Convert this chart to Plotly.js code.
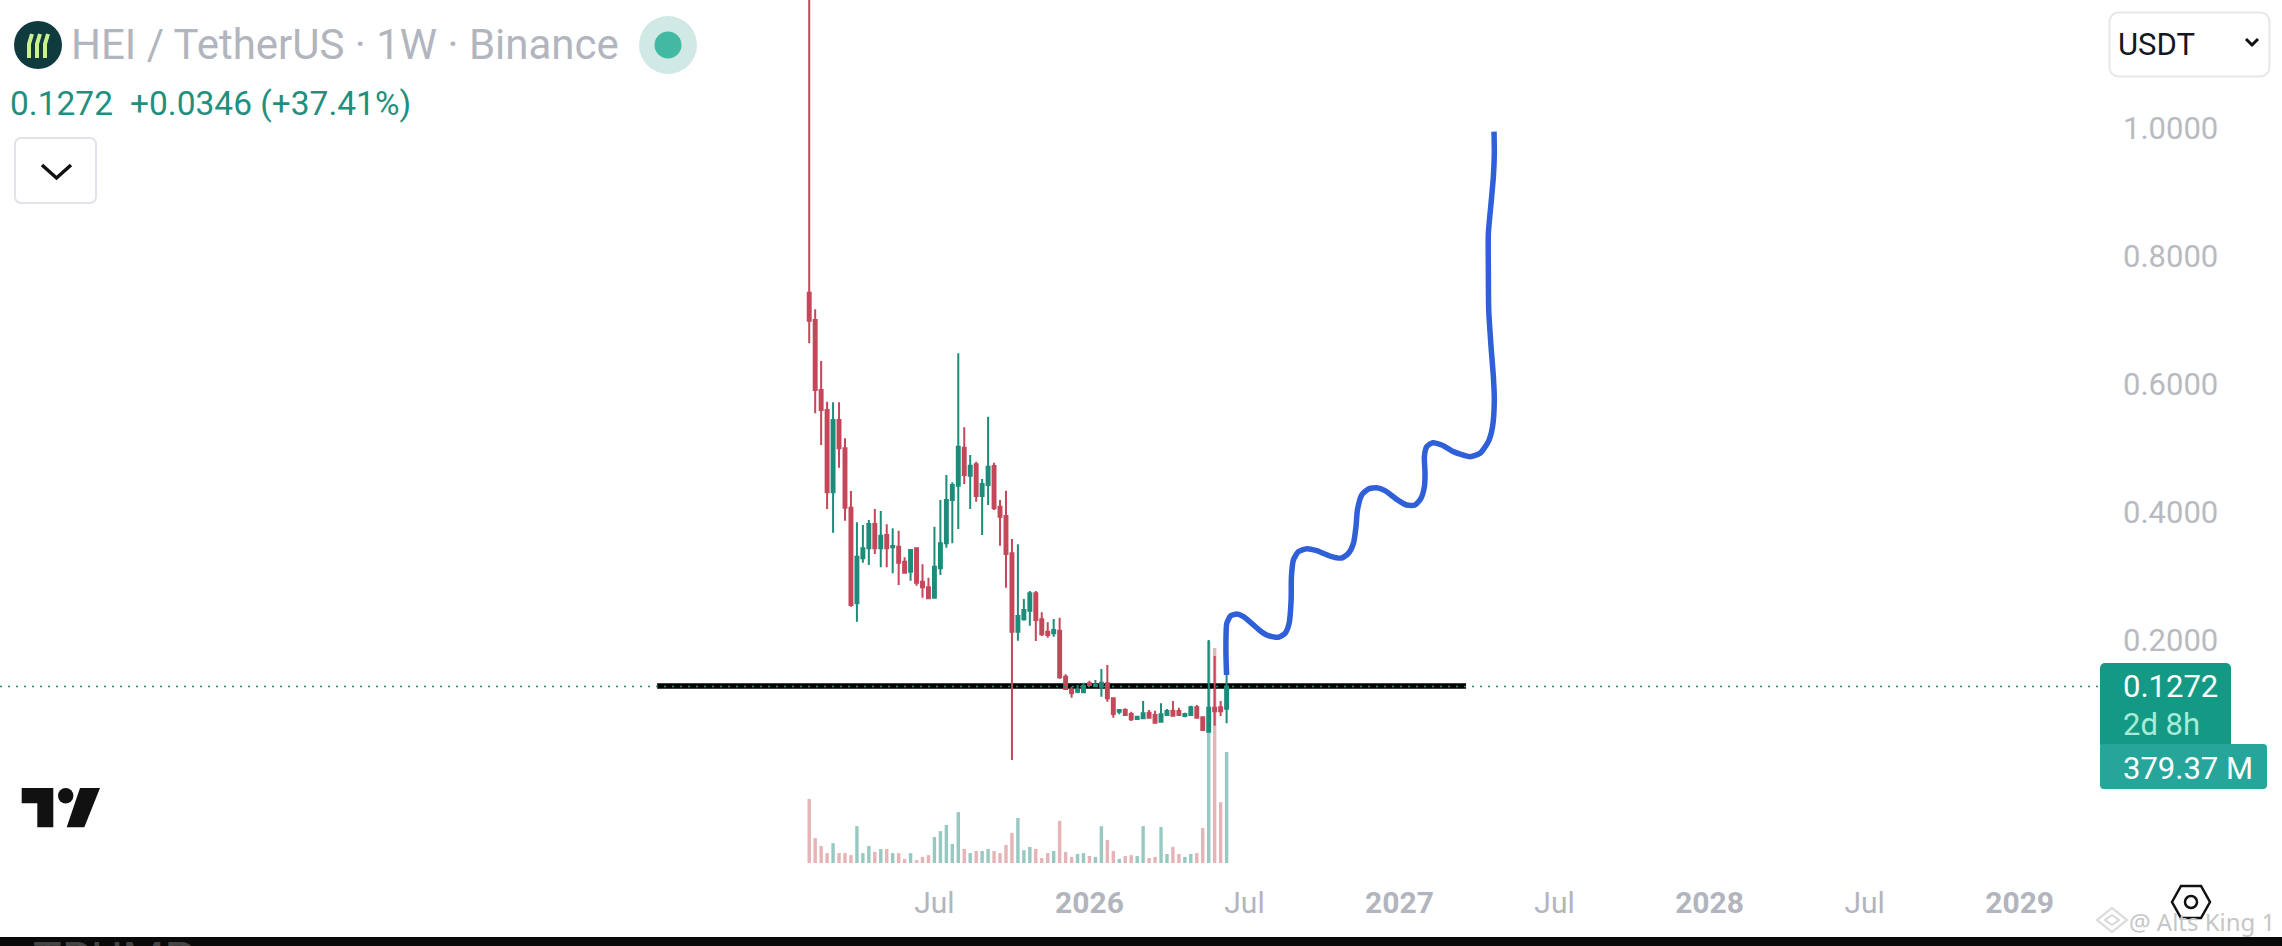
<!DOCTYPE html>
<html><head><meta charset="utf-8">
<script src="https://cdn.plot.ly/plotly-3.0.1.min.js"></script>
<style>
html,body{margin:0;padding:0;background:#fff;width:2282px;height:946px;overflow:hidden}
#under{position:absolute;left:0;top:0;z-index:0}
#chart{position:absolute;left:0;top:0;width:2282px;height:946px;z-index:1}
#clip{position:absolute;left:0;top:937px;width:2282px;height:9px;overflow:hidden;background:#0a0a0a;z-index:2}
#clip span{position:absolute;left:33px;top:0px;font:48px/46px Roboto;color:#444}
</style></head><body>
<svg id="under" width="2282" height="946" xmlns="http://www.w3.org/2000/svg">
  <rect x="2100" y="663" width="131" height="86" rx="5" fill="#149a84"/>
  <rect x="2100" y="744" width="167" height="45" rx="4" fill="#26a69a"/>
  <rect x="2109.5" y="12.5" width="160" height="64" rx="9" fill="#fff" stroke="#e6e7ea" stroke-width="2"/>
  <path d="M2246 39 L2252 45 L2258 39" fill="none" stroke="#111" stroke-width="3"/>
  <ellipse cx="38" cy="45" rx="24" ry="24" fill="#0f3b3f"/>
  <g stroke="#cdf08e" stroke-width="4" fill="none">
    <path d="M29 58 V44 L32 34"/><path d="M37 58 V44 L40 34"/><path d="M45 58 V44 L48 34"/>
  </g>
  <circle cx="668" cy="45" r="29" fill="#d0e9e5"/>
  <circle cx="668" cy="45" r="13.5" fill="#43b9a3"/>
  <rect x="15" y="138" width="81" height="65" rx="6" fill="#fff" stroke="#e0e3eb" stroke-width="2"/>
  <path d="M42 165 L56.500 178 L71 165" fill="none" stroke="#111" stroke-width="3.500"/>
  <path d="M21.700 788 H53.300 V827.300 H37.300 V803.300 H21.700 Z" fill="#111"/>
  <circle cx="65.700" cy="795.700" r="7.700" fill="#111"/>
  <path d="M80 788 H100 L84.300 827.300 H66.700 Z" fill="#111"/>
  <path d="M2172 902 L2181 886 H2201 L2210 902 L2201 918 H2181 Z" fill="none" stroke="#111" stroke-width="2.500"/>
  <circle cx="2191" cy="902" r="6" fill="none" stroke="#111" stroke-width="2.500"/>
  <path d="M2112 908 L2127 920 L2112 932 L2097 920 Z M2112 915 L2119 920 L2112 925 L2105 920 Z" fill="none" stroke="#d8d8d8" stroke-width="2"/>
</svg>
<div id="chart"></div>
<div id="clip"><span>TRUMP</span></div>
<script>
// Weekly candles, HEI / USDT, one value per week starting from the first bar
var firstBar = '2025-02-03';
var opens  = [.7427,.7000,.5906,.5594,.4307,.5437,.4995,.4068,.2573,.3276,.3432,.3812,.3432,.3641,.3448,.3458,.3224,.3068,.3432,.2911,.2823,.2661,.3120,.3510,.4187,.4411,.5005,.4568,.4745,.4250,.4422,.4719,.4083,.3938,.3354,.2130,.2323,.2458,.2729,.2323,.2130,.2104,.2146,.1427,.1219,.1193,.1182,.1323,.1281,.1271,.1323,.1089,.0880,.0906,.0844,.0766,.0776,.0865,.0828,.0724,.0828,.0896,.0891,.0812,.0828,.0948,.0792,.0568,.0943,.0948,.0926];
var closes = [.6990,.5906,.5594,.4307,.5437,.4995,.4068,.2547,.3302,.3432,.3812,.3432,.3630,.3432,.3469,.3208,.3052,.3406,.2896,.2823,.2651,.3146,.3510,.4187,.4422,.5021,.4578,.4724,.4250,.4437,.4708,.4057,.3927,.3344,.2130,.2375,.2469,.2729,.2313,.2089,.2078,.2156,.1417,.1234,.1167,.1219,.1281,.1297,.1297,.1333,.1089,.0844,.0906,.0828,.0760,.0802,.0854,.0786,.0708,.0839,.0891,.0818,.0828,.0844,.0948,.0786,.0594,.0943,.0885,.0885,.1272];
var highs  = [1.350,.7167,.6359,.5724,.5714,.5714,.5151,.4328,.3839,.3797,.3875,.4047,.4016,.3807,.3745,.3708,.3292,.3406,.3448,.3182,.2974,.3771,.4187,.4578,.4464,.6479,.5323,.4891,.4786,.4516,.5490,.4771,.4187,.4333,.3578,.3495,.2641,.2766,.2766,.2432,.2276,.2328,.2349,.1464,.1271,.1297,.1333,.1365,.1375,.1547,.1609,.1104,.0922,.0932,.0880,.0812,.1047,.0906,.0896,.1010,.0922,.1047,.0943,.0865,.0974,.0984,.0792,.2000,.1750,.1047,.1453];
var lows   = [.6635,.5542,.5047,.4047,.3677,.4693,.3865,.2521,.2286,.3208,.3172,.3344,.3135,.3135,.3042,.2859,.3042,.2927,.2849,.2661,.2641,.2661,.3016,.3443,.3510,.3734,.4438,.4047,.4161,.3641,.4109,.4031,.3474,.2818,.0125,.1990,.2302,.2224,.1984,.2063,.2036,.2052,.1391,.1219,.1099,.1167,.1167,.1281,.1260,.1115,.1036,.0786,.0839,.0812,.0734,.0760,.0766,.0776,.0698,.0714,.0818,.0802,.0818,.0792,.0818,.0776,.0594,.0552,.0661,.0812,.0698];
// Volume in millions of USDT
var volumes = [219,85,58,34,68,34,34,27,126,34,58,38,48,48,34,34,14,34,10,21,27,89,109,130,65,174,48,34,41,41,48,41,34,62,103,154,44,55,48,17,34,41,144,38,21,31,34,24,21,126,79,41,14,24,27,24,126,17,21,123,31,55,31,21,31,34,120,759,735,208,379.37];
// Hand-drawn projection: weeks after the last bar, and price
var blueWeeks  = [0,-0.1,-0.1,0.03,0.7,1.7,2.82,4.22,5.62,7.0,8.69,9.8,10.48,10.82,10.87,11.2,12.05,13.44,15.1,17.36,19.3,20.43,21.27,21.7,21.94,22.66,23.78,25.18,26.58,28.53,30.2,31.6,32.6,33.17,33.28,33.17,33.57,34.57,36.08,38.03,40.83,42.5,43.9,44.6,44.9,44.74,44.35,43.96,43.9,43.9,44.35,44.74,44.9,44.85];
var bluePrices = [.1453,.1740,.2052,.2260,.2380,.2406,.2365,.2260,.2146,.2068,.2042,.2104,.2260,.2625,.2990,.3250,.3380,.3427,.3396,.3312,.3281,.3354,.3510,.3771,.4031,.4266,.4359,.4380,.4333,.4198,.4109,.4109,.4214,.4396,.4604,.4865,.5021,.5083,.5047,.4943,.4865,.4917,.5099,.5333,.5750,.6114,.6583,.7156,.7781,.8354,.8823,.9240,.9604,.9943];
// Hand-drawn horizontal level
var levelWeeks = [-95.5,40.16];
var levelPrices = [.1281,.1281];
var lastPrice = 0.1272;
var priceTicks = [0.2,0.4,0.6,0.8,1.0];
var timeTickVals = ['2025-06-30','2025-12-29','2026-06-29','2026-12-28','2027-06-28','2027-12-27','2028-06-26','2028-12-25'];
var timeTickText = ['Jul','<b>2026</b>','Jul','<b>2027</b>','Jul','<b>2028</b>','Jul','<b>2029</b>'];
var xRange = ['2022-06-29','2029-03-27'];

var WEEK = 7*86400000, DAY = 86400000;
var t0 = Date.parse(firstBar+'T00:00:00Z');
var iso = function(ms){return new Date(ms).toISOString().slice(0,10);};
var dates = opens.map(function(_,i){return iso(t0+i*WEEK);});
var tLast = t0+(opens.length-1)*WEEK;
var wk = function(w){return new Date(tLast+w*WEEK).toISOString().slice(0,19);};

var RED='#c4475a', GREEN='#1d8c7b', VR='#e6b3b6', VG='#97c9c2';
var volColors = opens.map(function(o,i){return closes[i]>=o?VG:VR;});

var W=2098,H=880;
var A=function(text,x,y,size,color,extra){
  var a={text:text,xref:'paper',yref:'paper',x:x/W,y:1-y/H,xanchor:'left',yanchor:'middle',showarrow:false,
    font:{family:'Roboto',size:size,color:color}};
  for(var k in extra)a[k]=extra[k];return a;};

var traces=[
 {type:'bar',x:dates,y:volumes,width:4*DAY,marker:{color:volColors,line:{width:0}},xaxis:'x',yaxis:'y',hoverinfo:'skip'},
 {type:'scatter',mode:'lines',x:levelWeeks.map(wk),y:levelPrices,line:{color:'#000',width:5.5},xaxis:'x',yaxis:'y2',hoverinfo:'skip'},
 {type:'scatter',mode:'lines',x:blueWeeks.map(wk),y:bluePrices,line:{color:'#2f60d8',width:5.5,shape:'spline',smoothing:0.6},xaxis:'x',yaxis:'y2',hoverinfo:'skip'},
 {type:'candlestick',x:dates,open:opens,high:highs,low:lows,close:closes,width:2.4*DAY,whiskerwidth:0,
  increasing:{line:{color:GREEN,width:2},fillcolor:GREEN},decreasing:{line:{color:RED,width:2},fillcolor:RED},
  xaxis:'x',yaxis:'y3',hoverinfo:'skip'},
 {type:'scatter',mode:'lines',x:xRange,y:[lastPrice,lastPrice],line:{color:'#2d8a7c',width:1.5,dash:'2px,6px'},xaxis:'x',yaxis:'y3',hoverinfo:'skip'}
];
var priceRange=[-0.175,1.2];
var layout={width:2282,height:946,margin:{l:0,r:184,t:0,b:66,pad:0},paper_bgcolor:'rgba(0,0,0,0)',plot_bgcolor:'rgba(0,0,0,0)',
 showlegend:false,
 xaxis:{type:'date',range:xRange,rangeslider:{visible:false},showgrid:false,zeroline:false,showline:false,ticks:'',
   tickmode:'array',tickvals:timeTickVals,ticktext:timeTickText,tickfont:{family:'Roboto',size:30,color:'#b2b5be'},tickangle:0,ticklabelstandoff:2},
 yaxis:{range:[-58,2950],visible:false,fixedrange:true},
 yaxis2:{range:priceRange,overlaying:'y',visible:false},
 yaxis3:{range:priceRange,overlaying:'y',side:'right',showgrid:false,zeroline:false,showline:false,ticks:'',
   tickmode:'array',tickvals:priceTicks,tickformat:'.4f',tickfont:{family:'Roboto',size:31,color:'#b9babf'},ticklabelstandoff:24},
 annotations:[
  A('HEI / TetherUS · 1W · Binance',69,44,42,'#b2b5be'),
  A('0.1272',8,104,33.5,'#1f9080'),
  A('+0.0346 (+37.41%)',128,104,33.5,'#1f9080'),
  A('USDT',2116,44,31,'#131722'),
  A('0.1272',2121,686,31,'#ffffff'),
  A('2d 8h',2121,724,31,'#a7ecd9'),
  A('379.37 M',2121,768,31,'#ffffff'),
  A('@ Alts King 1',2127,921,24,'#c6c6c6',{font:{family:'Noto Sans',size:24,color:'#c6c6c6'}})
 ]};
Plotly.newPlot('chart',traces,layout,{displayModeBar:false,staticPlot:true});
</script>
</body></html>
